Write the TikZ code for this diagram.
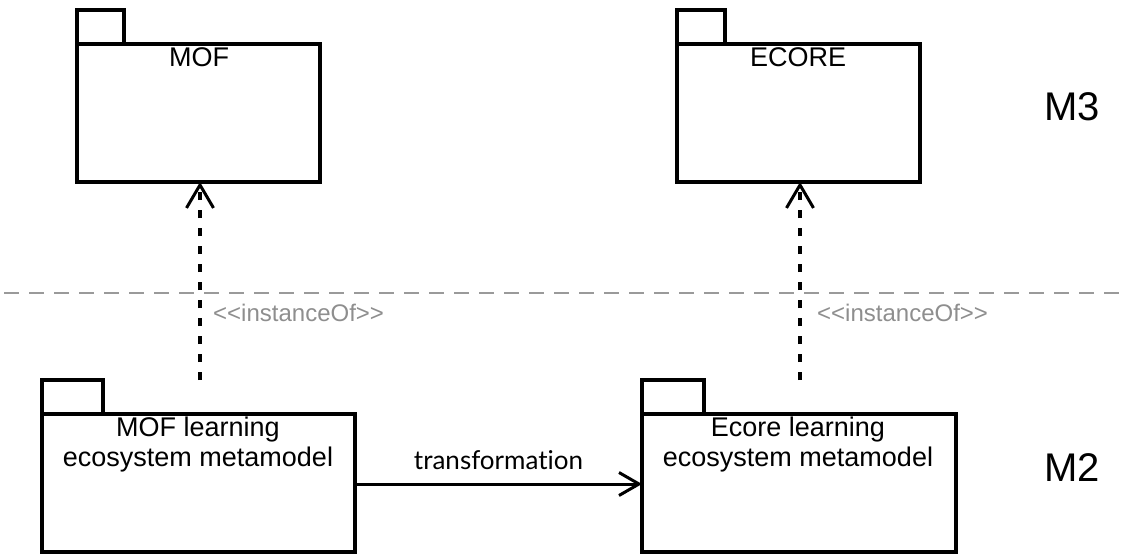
\documentclass[tikz,border=0pt]{standalone}
\usepackage{fontspec}
\setmainfont{Liberation Sans}
\newfontfamily\gillfont[Ligatures=NoCommon]{Lato}
\usetikzlibrary{arrows.meta}
\definecolor{sepgray}{HTML}{9A9A9A}
\definecolor{labgray}{HTML}{8E8E8E}
\begin{document}
\begin{tikzpicture}[x=1pt,y=-1pt,
  pkgline/.style={draw=black,line width=3.2pt,inner sep=0pt,outer sep=0pt},
  pkgtitle/.style={font=\fontsize{27}{30}\selectfont,align=center,inner sep=0pt,anchor=north},
  levellabel/.style={font=\fontsize{40}{44}\selectfont,inner sep=0pt},
  stereo/.style={font=\fontsize{24}{26}\selectfont,text=labgray,inner sep=0pt,anchor=west},
  depend/.style={draw=black,line width=3.2pt,dash pattern=on 8pt off 10pt,
     -{Straight Barb[length=23pt,width=27pt,line width=3pt]}},
  transf/.style={draw=black,line width=3pt,
     -{Straight Barb[length=20pt,width=23pt,line width=3pt]}},
  separator/.style={draw=sepgray,line width=2pt,dash pattern=on 15pt off 10pt}
]
\useasboundingbox (0,0) rectangle (1126,554);
% M3 packages
\node[pkgline,rectangle,minimum width=243pt,minimum height=138pt] (mofbody) at (198.5,113) {};
\node[pkgline,rectangle,minimum width=47pt,minimum height=34pt,anchor=south west] (moftab) at (mofbody.north west) {};
\node[pkgtitle] (moftitle) at (199,47) {MOF};
\node[pkgline,rectangle,minimum width=243pt,minimum height=138pt] (ecorebody) at (798.5,113) {};
\node[pkgline,rectangle,minimum width=48pt,minimum height=34pt,anchor=south west] (ecoretab) at (ecorebody.north west) {};
\node[pkgtitle] (ecoretitle) at (798,47) {ECORE};
% M2 packages
\node[pkgline,rectangle,minimum width=313pt,minimum height=138pt] (moflbody) at (198.5,483) {};
\node[pkgline,rectangle,minimum width=61pt,minimum height=34pt,anchor=south west] (mofltab) at (moflbody.north west) {};
\node[pkgtitle] (mofltitle) at (198,417) {MOF learning\\ecosystem metamodel};
\node[pkgline,rectangle,minimum width=314pt,minimum height=138pt] (ecorelbody) at (799,483) {};
\node[pkgline,rectangle,minimum width=62pt,minimum height=34pt,anchor=south west] (ecoreltab) at (ecorelbody.north west) {};
\node[pkgtitle] (ecoreltitle) at (798,417) {Ecore learning\\ecosystem metamodel};
% level labels
\node[levellabel] (mthree) at (1072,107) {M3};
\node[levellabel] (mtwo) at (1072,468) {M2};
% separator
\coordinate (sepL) at (4,293);
\coordinate (sepR) at (1126,293);
\draw[separator] (sepL) -- (sepR);
% instanceOf dependencies
\coordinate (depA) at ([xshift=1.5pt]mofbody.south |- mofltab.north);
\coordinate (depAend) at ([xshift=1.5pt]mofbody.south);
\draw[depend] (depA) -- (depAend);
\coordinate (depB) at ([xshift=1.5pt]ecorebody.south |- ecoreltab.north);
\coordinate (depBend) at ([xshift=1.5pt]ecorebody.south);
\draw[depend] (depB) -- (depBend);
\node[stereo] (stA) at (213,313) {{<}{<}instanceOf{>}{>}};
\node[stereo] (stB) at (817,313) {{<}{<}instanceOf{>}{>}};
% transformation
\draw[transf] ([yshift=-1pt]moflbody.east) -- node[above=13pt,font=\gillfont\fontsize{26}{28}\selectfont,inner sep=0pt] (trlabel) {transformation} ([yshift=-1pt]ecorelbody.west);
\end{tikzpicture}
\end{document}
